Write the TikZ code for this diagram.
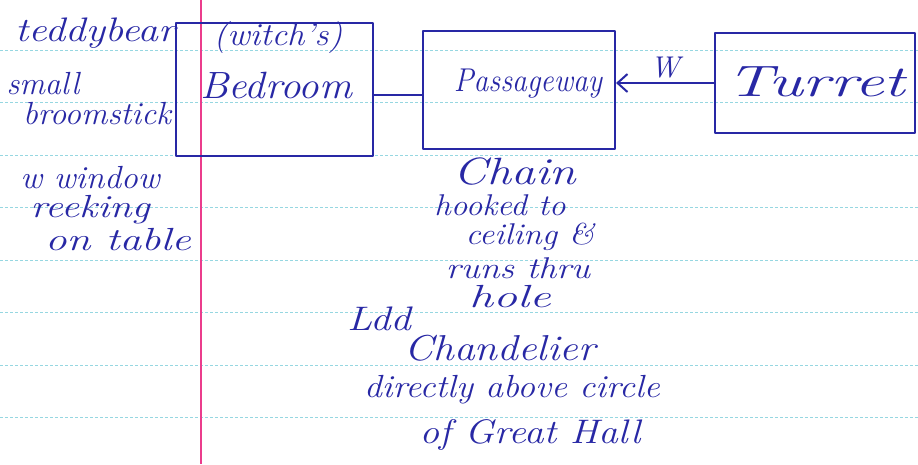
\documentclass[tikz,border=0pt]{standalone}
\usetikzlibrary{arrows.meta}
\definecolor{ink}{RGB}{40,40,165}
\definecolor{rulecol}{RGB}{150,215,225}
\definecolor{marginpink}{RGB}{235,60,140}
\newcommand{\hw}[3]{{\fontsize{#1}{#1}\selectfont\itshape\scalebox{#2}[1]{#3}}}
\tikzset{
  pen/.style={draw=ink, line width=2pt, line cap=round, line join=round},
  room/.style={pen, rectangle, inner sep=0pt},
  hand/.style={text=ink, inner sep=0pt, anchor=center},
  ruleline/.style={draw=rulecol, line width=0.8pt, dash pattern=on 3pt off 2pt},
}
\begin{document}
\begin{tikzpicture}[x=1pt,y=-1pt]
\useasboundingbox (0,0) rectangle (918,464);
\fill[white] (0,0) rectangle (918,464);
% ruled paper
\foreach \yy in {50,102.5,155,207.5,260,312.5,365,417.5}
  \draw[ruleline] (0,\yy) -- (918,\yy);
\draw[draw=marginpink, line width=1.3pt] (201,0) -- (201,464);
% rooms
\node[room, minimum width=197pt, minimum height=133pt] (bed) at (274,89) {};
\node[room, minimum width=192pt, minimum height=118pt] (pass) at (519,90) {};
\node[room, minimum width=200pt, minimum height=100pt] (tur) at (815,83) {};
\node[hand] (witch) at (278,38) {\hw{32}{1.08}{(witch's)}};
\node[hand] (bedtxt) at (276,86) {\hw{38}{1.08}{Bedroom}};
\node[hand] (passtxt) at (528,84) {\hw{33}{0.9}{Passageway}};
\node[hand] (turtxt) at (816,82) {\hw{44}{1.5}{Turret}};
% connectors
\draw[pen] ([yshift=-6pt]bed.east) -- ([yshift=-5pt]pass.west);
\draw[pen, -{Straight Barb[length=10pt,width=18pt]}] (tur.west) -- (tur.west -| pass.east)
  node[midway, above=4pt, hand, anchor=south] (w) {\hw{30}{1}{W}};
% left notes
\node[hand] (teddy) at (95,33) {\hw{34}{1.2}{teddybear}};
\node[hand] (small) at (43,84) {\hw{32}{1}{small}};
\node[hand] (broom) at (97,114) {\hw{32}{1.03}{broomstick}};
\node[hand] (win) at (90,178) {\hw{32}{1.05}{w window}};
\node[hand] (reek) at (90,210) {\hw{32}{1.26}{reeking}};
\node[hand] (table) at (118,240) {\hw{32}{1.35}{on table}};
% chain notes
\node[hand] (chain) at (515,172) {\hw{38}{1.26}{Chain}};
\node[hand] (hooked) at (500,205) {\hw{30}{1.1}{hooked to}};
\node[hand] (ceil) at (530,237) {\hw{30}{1.13}{ceiling \&}};
\node[hand] (runs) at (518,268) {\hw{30}{1.2}{runs thru}};
\node[hand] (hole) at (510,297) {\hw{32}{1.5}{hole}};
\node[hand] (ldd) at (379,319) {\hw{34}{1.2}{Ldd}};
\node[hand] (chand) at (500,348) {\hw{36}{1.15}{Chandelier}};
\node[hand] (above) at (512,390) {\hw{32}{1.11}{directly above circle}};
\node[hand] (great) at (530,435) {\hw{34}{1.15}{of Great Hall}};
\end{tikzpicture}
\end{document}
